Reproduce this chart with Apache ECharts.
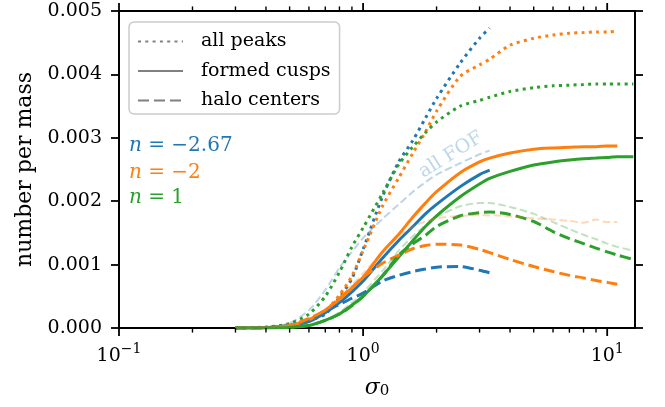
<!DOCTYPE html>
<html>
<head>
<meta charset="utf-8">
<script src="https://cdn.jsdelivr.net/npm/echarts@6/dist/echarts.min.js"></script>
<style>
  html, body { margin: 0; padding: 0; background: #fff; }
  #chart { width: 665px; height: 407px; }
</style>
</head>
<body>
<div id="chart"></div>
<script>
// sigma_0 sample points shared by every curve
const sigma = [0.3, 0.4, 0.5, 0.6, 0.7, 0.8, 0.9, 1.0, 1.2, 1.4, 1.6, 1.8, 2.0, 2.5, 3.0, 3.3, 4, 5, 6, 7, 8, 9, 10, 11, 12.8];

// n = -2.67 (runs up to sigma = 3.3)
const blueAllPeaks = [0, 0.00001, 0.00005, 0.00012, 0.00022, 0.00048, 0.00078, 0.00124, 0.00207, 0.00262, 0.00296, 0.00331, 0.00362, 0.00418, 0.00457, 0.00473];
const blueCusps    = [0, 0.000004, 0.00003, 0.0001, 0.00024, 0.0004, 0.00057, 0.00074, 0.0011, 0.00138, 0.0016, 0.0018, 0.00195, 0.00223, 0.00242, 0.00249];
const blueHalos    = [0, 0.000005, 0.00004, 0.00013, 0.00027, 0.00037, 0.00047, 0.00055, 0.00074, 0.00083, 0.00089, 0.00093, 0.00096, 0.00097, 0.00091, 0.00087];
const blueFOF      = [0, 0.00001, 0.00008, 0.00028, 0.0006, 0.00095, 0.0012, 0.00142, 0.00172, 0.00195, 0.00215, 0.0023, 0.00242, 0.0026, 0.00274, 0.0028];

// n = -2 (runs up to sigma = 11)
const orangeAllPeaks = [0, 0.00001, 0.00005, 0.00014, 0.00027, 0.00052, 0.00082, 0.00122, 0.00192, 0.00237, 0.00276, 0.00309, 0.00342, 0.00397, 0.00415, 0.00424, 0.00446, 0.00457, 0.00462, 0.00465, 0.00466, 0.00467, 0.00467, 0.00468];
const orangeCusps    = [0, 0.000005, 0.00004, 0.00013, 0.00028, 0.00045, 0.00063, 0.0008, 0.0012, 0.00148, 0.00175, 0.00197, 0.00215, 0.00245, 0.00262, 0.00268, 0.00276, 0.00282, 0.00284, 0.00285, 0.00286, 0.00286, 0.00287, 0.00287];
const orangeHalos    = [0, 0.000005, 0.00004, 0.00015, 0.00028, 0.00047, 0.00064, 0.0008, 0.00102, 0.00115, 0.00125, 0.0013, 0.00132, 0.00131, 0.00124, 0.00119, 0.00108, 0.00097, 0.00089, 0.00083, 0.00079, 0.00075, 0.00072, 0.00069];
const orangeFOF      = [0, 0.000005, 0.00004, 0.00014, 0.0003, 0.00048, 0.00068, 0.00086, 0.0012, 0.00145, 0.0016, 0.00168, 0.00173, 0.00177, 0.00178, 0.00178, 0.00176, 0.00173, 0.00171, 0.00169, 0.00166, 0.00171, 0.00167, 0.00167];

// n = 1 (runs up to sigma = 12.8)
const greenAllPeaks = [0, 0.000015, 0.00007, 0.00022, 0.0005, 0.00088, 0.00128, 0.00158, 0.00212, 0.00258, 0.00286, 0.00308, 0.00325, 0.0035, 0.00359, 0.00364, 0.00373, 0.00379, 0.00382, 0.00383, 0.00384, 0.00385, 0.00385, 0.00385, 0.00385];
const greenCusps    = [0, 0.000002, 0.00001, 0.00004, 0.00012, 0.00022, 0.00036, 0.0005, 0.00082, 0.00112, 0.00138, 0.0016, 0.00177, 0.00207, 0.00227, 0.00236, 0.00247, 0.00257, 0.00262, 0.00265, 0.00267, 0.00268, 0.00269, 0.0027, 0.0027];
const greenHalos    = [0, 0.000002, 0.00001, 0.00004, 0.00012, 0.00022, 0.00035, 0.0005, 0.00082, 0.00115, 0.00133, 0.00146, 0.0016, 0.00177, 0.00182, 0.00183, 0.00179, 0.00168, 0.00152, 0.00141, 0.00133, 0.00126, 0.0012, 0.00115, 0.00108];
const greenFOF      = [0, 0.000002, 0.00001, 0.00005, 0.00013, 0.00025, 0.0004, 0.00056, 0.0009, 0.00122, 0.00145, 0.00162, 0.00175, 0.00192, 0.00197, 0.00197, 0.00191, 0.0018, 0.00167, 0.00156, 0.00147, 0.0014, 0.00133, 0.00128, 0.00122];

const legendNames = ['all peaks', 'formed cusps', 'halo centers'];
const xTicksMajor = [0.1, 1, 10];
const xTicksMinor = [0.2, 0.3, 0.4, 0.5, 0.6, 0.7, 0.8, 0.9, 2, 3, 4, 5, 6, 7, 8, 9];
const xRange = [0.1, 13];
const yRange = [0, 0.005];
const yStep = 0.001;

const BLUE = '#1f77b4', ORANGE = '#ff7f0e', GREEN = '#2ca02c', GREY = '#808080';
const FONT = 'DejaVu Serif';
const DOTTED = [3, 4.3], DASHED = [11, 5], THIN_DASHED = [7.5, 3.5];
const GRID = { left: 119, right: 30, top: 11, bottom: 79, containLabel: false };

function curve(name, vals, color, dash, width, opacity) {
  const s = {
    type: 'line',
    data: vals.map((v, i) => [sigma[i], v]),
    symbol: 'none',
    smooth: 0.25,
    lineStyle: { color: color, width: width, type: dash, opacity: opacity, cap: 'butt' },
    itemStyle: { color: color },
    z: 3
  };
  if (name) s.name = name;
  return s;
}

function isPow10(v) {
  const e = Math.round(Math.log10(v));
  return Math.abs(v - Math.pow(10, e)) / v < 1e-6;
}

const el = document.getElementById('chart');

// Resolve the log-axis tick positions with a bare chart that shares the same grid and scales.
let tickGraphics = [];
try {
  const probe = echarts.init(el);
  probe.setOption({
    animation: false,
    grid: GRID,
    xAxis: { type: 'log', min: xRange[0], max: xRange[1] },
    yAxis: { type: 'value', min: yRange[0], max: yRange[1], interval: yStep }
  });
  const yBottom = probe.convertToPixel({ yAxisIndex: 0 }, yRange[0]);
  const yTop = probe.convertToPixel({ yAxisIndex: 0 }, yRange[1]);
  xTicksMajor.concat(xTicksMinor).forEach(function (v) {
    const x = probe.convertToPixel({ xAxisIndex: 0 }, v);
    if (!isFinite(x) || !isFinite(yBottom) || !isFinite(yTop)) return;
    const major = isPow10(v);
    const len = major ? 8 : 4.6;
    const w = major ? 1.8 : 1.4;
    tickGraphics.push(
      { type: 'line', silent: true, z: 40, shape: { x1: x, y1: yBottom, x2: x, y2: yBottom + len }, style: { stroke: '#000', lineWidth: w } },
      { type: 'line', silent: true, z: 40, shape: { x1: x, y1: yTop, x2: x, y2: yTop - len }, style: { stroke: '#000', lineWidth: w } }
    );
  });
  probe.dispose();
} catch (e) {
  tickGraphics = [];
}

const annotations = [
  {
    type: 'text', left: 129, top: 136, z: 30,
    style: { text: '{i|n} = \u22122.67', fill: BLUE, font: '20px "DejaVu Serif"',
      rich: { i: { fontStyle: 'italic', fontFamily: FONT, fontSize: 20, fill: BLUE } } }
  },
  {
    type: 'text', left: 129, top: 163, z: 30,
    style: { text: '{i|n} = \u22122', fill: ORANGE, font: '20px "DejaVu Serif"',
      rich: { i: { fontStyle: 'italic', fontFamily: FONT, fontSize: 20, fill: ORANGE } } }
  },
  {
    type: 'text', left: 129, top: 188, z: 30,
    style: { text: '{i|n} = 1', fill: GREEN, font: '20px "DejaVu Serif"',
      rich: { i: { fontStyle: 'italic', fontFamily: FONT, fontSize: 20, fill: GREEN } } }
  },
  {
    type: 'text', x: 451, y: 155, rotation: 32 * Math.PI / 180, z: 30,
    style: { text: 'all FOF', fill: 'rgba(31,119,180,0.3)', font: '19px "DejaVu Serif"', align: 'center', verticalAlign: 'middle' }
  }
];

const chart = echarts.init(el);

const option = {
  animation: false,
  backgroundColor: '#fff',
  textStyle: { fontFamily: FONT },
  grid: Object.assign({ show: true, borderColor: '#000', borderWidth: 1.8, backgroundColor: 'transparent' }, GRID),
  xAxis: {
    type: 'log', min: xRange[0], max: xRange[1],
    name: '{i|σ}{s|0}', nameLocation: 'middle', nameGap: 45,
    nameTextStyle: {
      rich: {
        i: { fontFamily: FONT, fontStyle: 'italic', fontSize: 22, color: '#000', lineHeight: 26, verticalAlign: 'bottom' },
        s: { fontFamily: FONT, fontSize: 15, color: '#000', lineHeight: 18, verticalAlign: 'bottom' }
      }
    },
    axisLine: { show: true, onZero: false, lineStyle: { color: '#000', width: 1.8 } },
    axisTick: { show: false },
    splitLine: { show: false },
    axisLabel: {
      margin: 14,
      showMaxLabel: false,
      formatter: function (v) {
        if (!isPow10(v)) return '';
        const e = Math.round(Math.log10(v));
        return '{b|10}{s|' + (e < 0 ? '\u2212' + (-e) : e) + '}';
      },
      rich: {
        b: { fontFamily: FONT, fontSize: 19, color: '#000', lineHeight: 24, verticalAlign: 'bottom' },
        s: { fontFamily: FONT, fontSize: 14, color: '#000', lineHeight: 14, verticalAlign: 'top' }
      }
    }
  },
  yAxis: [
    {
      type: 'value', min: yRange[0], max: yRange[1], interval: yStep, position: 'left',
      name: 'number per mass', nameLocation: 'middle', nameGap: 80, nameRotate: 90,
      nameTextStyle: { fontFamily: FONT, fontSize: 22, color: '#000' },
      axisLine: { show: true, onZero: false, lineStyle: { color: '#000', width: 1.8 } },
      axisTick: { show: true, length: 8, lineStyle: { color: '#000', width: 1.8 } },
      splitLine: { show: false },
      axisLabel: {
        margin: 17, fontFamily: FONT, fontSize: 19, color: '#000',
        formatter: v => v.toFixed(3)
      }
    },
    {
      type: 'value', min: yRange[0], max: yRange[1], interval: yStep, position: 'right',
      axisLine: { show: true, onZero: false, lineStyle: { color: '#000', width: 1.8 } },
      axisTick: { show: true, length: 8, lineStyle: { color: '#000', width: 1.8 } },
      axisLabel: { show: false }, splitLine: { show: false }
    }
  ],
  legend: {
    data: legendNames,
    orient: 'vertical', left: 129, top: 22,
    padding: [10, 9, 4, 8], itemGap: 10.5, itemWidth: 45, itemHeight: 14,
    backgroundColor: 'rgba(255,255,255,0.8)', borderColor: '#cccccc', borderWidth: 1.5, borderRadius: 5,
    selectedMode: false,
    itemStyle: { opacity: 0 },
    lineStyle: { color: GREY },
    textStyle: { fontFamily: FONT, fontSize: 19, color: '#000', padding: [0, 0, 0, 13] },
    z: 20
  },
  graphic: annotations.concat(tickGraphics),
  series: [
    // dotted: all peaks
    curve(legendNames[0], blueAllPeaks, BLUE, DOTTED, 3, 1),
    curve(legendNames[0], orangeAllPeaks, ORANGE, DOTTED, 3, 1),
    curve(legendNames[0], greenAllPeaks, GREEN, DOTTED, 3, 1),
    // solid: formed cusps
    curve(legendNames[1], blueCusps, BLUE, 'solid', 3, 1),
    curve(legendNames[1], orangeCusps, ORANGE, 'solid', 3, 1),
    curve(legendNames[1], greenCusps, GREEN, 'solid', 3, 1),
    // dashed: halo centers
    curve(legendNames[2], blueHalos, BLUE, DASHED, 3, 1),
    curve(legendNames[2], orangeHalos, ORANGE, DASHED, 3, 1),
    curve(legendNames[2], greenHalos, GREEN, DASHED, 3, 1),
    // pale dashed: all FOF groups
    curve(null, blueFOF, BLUE, THIN_DASHED, 2, 0.3),
    curve(null, orangeFOF, ORANGE, THIN_DASHED, 2, 0.3),
    curve(null, greenFOF, GREEN, THIN_DASHED, 2, 0.3)
  ]
};

try {
  chart.setOption(option);
} catch (e) {
  // keep whatever has already been drawn
}
</script>
</body>
</html>
